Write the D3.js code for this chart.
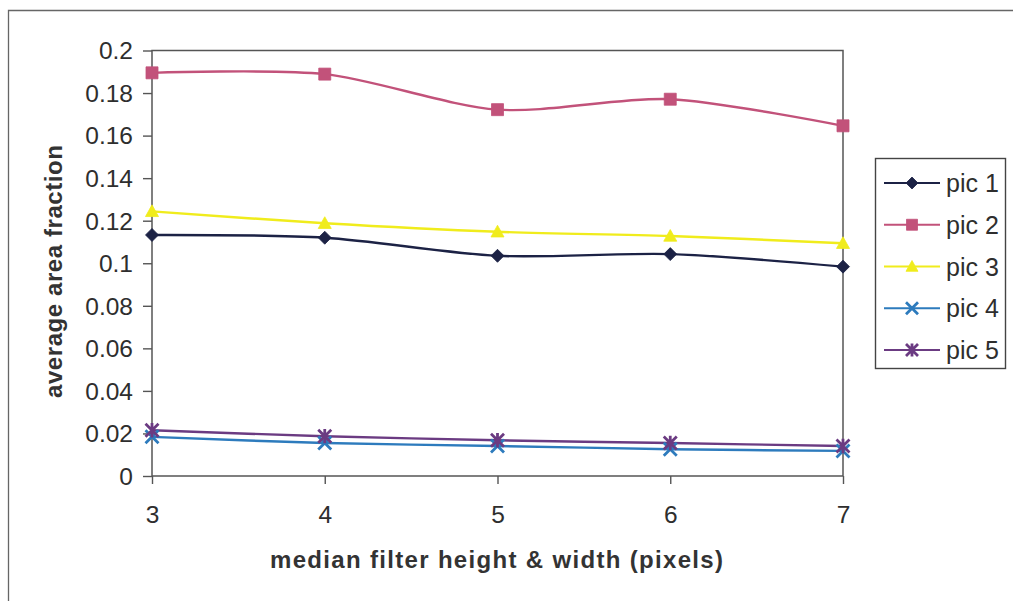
<!DOCTYPE html>
<html>
<head>
<meta charset="utf-8">
<script src="https://cdn.jsdelivr.net/npm/d3@7"></script>
<style>
  html, body { margin: 0; padding: 0; background: #fff; }
  svg { display: block; font-family: "Liberation Sans", Arial, sans-serif; }
</style>
</head>
<body>
<svg id="chart" width="1013" height="601"></svg>
<script>
// Filter sizes (x values)
const filterSizes = [3, 4, 5, 6, 7];
const seriesNames = ["pic 1", "pic 2", "pic 3", "pic 4", "pic 5"];
// Average area fraction per picture
const pic1 = [0.1133, 0.1120, 0.1035, 0.1043, 0.0984];
const pic2 = [0.1895, 0.1889, 0.1722, 0.1771, 0.1646];
const pic3 = [0.1244, 0.1188, 0.1148, 0.1128, 0.1094];
const pic4 = [0.0184, 0.0155, 0.0141, 0.0126, 0.0118];
const pic5 = [0.0215, 0.0187, 0.0168, 0.0155, 0.0141];
const yTicks = [0, 0.02, 0.04, 0.06, 0.08, 0.1, 0.12, 0.14, 0.16, 0.18, 0.2];
const yTickLabels = ["0", "0.02", "0.04", "0.06", "0.08", "0.1", "0.12", "0.14", "0.16", "0.18", "0.2"];

const seriesValues = [pic1, pic2, pic3, pic4, pic5];
const colors = ["#1c2245", "#c2527a", "#f0ec1c", "#2d7bbd", "#6b3b82"];
const markerKinds = ["diamond", "square", "triangle", "cross", "star"];

const svg = d3.select("#chart");
const plot = { left: 152, right: 843, top: 50.5, bottom: 476 };

const x = d3.scaleLinear().domain([3, 7]).range([plot.left, plot.right]);
const y = d3.scaleLinear().domain([0, 0.2]).range([plot.bottom, plot.top]);

// outer chart frame (left and top edges visible)
svg.append("path")
  .attr("d", "M8.5,601 L8.5,10.5 L1013,10.5")
  .attr("fill", "none").attr("stroke", "#666").attr("stroke-width", 1.3);

// plot area frame
svg.append("rect")
  .attr("x", plot.left).attr("y", plot.top)
  .attr("width", plot.right - plot.left).attr("height", plot.bottom - plot.top)
  .attr("fill", "none").attr("stroke", "#555").attr("stroke-width", 1.5);

// y axis
const yAxis = svg.append("g")
  .attr("transform", `translate(${plot.left},0)`)
  .call(d3.axisLeft(y).tickValues(yTicks)
    .tickFormat((d, i) => yTickLabels[i]).tickSize(9).tickPadding(10));
yAxis.select(".domain").remove();
yAxis.selectAll(".tick line").attr("stroke", "#555").attr("stroke-width", 1.4);
yAxis.selectAll(".tick text")
  .attr("fill", "#2e2e2e").attr("font-size", 24.5).attr("dy", "0.34em")
  .attr("font-family", "Liberation Sans, Arial, sans-serif");

// x axis
const xAxis = svg.append("g")
  .attr("transform", `translate(0,${plot.bottom})`)
  .call(d3.axisBottom(x).tickValues(filterSizes).tickFormat(d3.format("d"))
    .tickSize(8).tickPadding(22));
xAxis.select(".domain").remove();
xAxis.selectAll(".tick line").attr("stroke", "#555").attr("stroke-width", 1.4);
xAxis.selectAll(".tick text")
  .attr("fill", "#2e2e2e").attr("font-size", 24.5).attr("dy", "0.71em")
  .attr("font-family", "Liberation Sans, Arial, sans-serif");

// axis titles
svg.append("text")
  .attr("x", 496.5).attr("y", 568)
  .attr("text-anchor", "middle")
  .attr("font-size", 24).attr("font-weight", "bold").attr("fill", "#333")
  .attr("textLength", 453).attr("lengthAdjust", "spacing")
  .text("median filter height & width (pixels)");

svg.append("text")
  .attr("transform", "translate(62,271.5) rotate(-90)")
  .attr("text-anchor", "middle")
  .attr("font-size", 24).attr("font-weight", "bold").attr("fill", "#333")
  .attr("textLength", 253).attr("lengthAdjust", "spacing")
  .text("average area fraction");

// marker shapes
function markerPath(kind, s) {
  const h = s / 2;
  switch (kind) {
    case "diamond": return `M0,${-h}L${h},0L0,${h}L${-h},0Z`;
    case "square": return `M${-h},${-h}H${h}V${h}H${-h}Z`;
    case "triangle": return `M0,${-h}L${h},${h * 0.8}H${-h}Z`;
    case "cross": return `M${-h},${-h}L${h},${h}M${h},${-h}L${-h},${h}`;
    case "star": return `M${-h},${-h}L${h},${h}M${h},${-h}L${-h},${h}M0,${-h * 1.1}V${h * 1.1}`;
  }
}
function drawMarker(g, kind, color, s) {
  const p = g.append("path").attr("d", markerPath(kind, s));
  if (kind === "cross" || kind === "star") {
    p.attr("fill", "none").attr("stroke", color).attr("stroke-width", 2.8);
  } else {
    p.attr("fill", color).attr("stroke", color).attr("stroke-width", 0.8);
  }
}
const markerSizes = { diamond: 13, square: 12, triangle: 13, cross: 13, star: 13 };

// smoothed series lines
const line = d3.line()
  .x((d, i) => x(filterSizes[i]))
  .y(d => y(d))
  .curve(d3.curveCardinal.tension(0.15));

seriesValues.forEach((vals, si) => {
  svg.append("path")
    .datum(vals)
    .attr("d", line)
    .attr("fill", "none")
    .attr("stroke", colors[si])
    .attr("stroke-width", 2.4);
});
seriesValues.forEach((vals, si) => {
  vals.forEach((v, i) => {
    const g = svg.append("g").attr("transform", `translate(${x(filterSizes[i])},${y(v)})`);
    drawMarker(g, markerKinds[si], colors[si], markerSizes[markerKinds[si]]);
  });
});

// legend
const legend = svg.append("g");
legend.append("rect")
  .attr("x", 875.5).attr("y", 158.5).attr("width", 130).attr("height", 210)
  .attr("fill", "#fff").attr("stroke", "#444").attr("stroke-width", 1.4);
const legendY = d3.scalePoint().domain(seriesNames).range([183, 350]);
seriesNames.forEach((name, si) => {
  const ly = legendY(name);
  legend.append("line")
    .attr("x1", 884).attr("x2", 940).attr("y1", ly).attr("y2", ly)
    .attr("stroke", colors[si]).attr("stroke-width", 2.2);
  const g = legend.append("g").attr("transform", `translate(912,${ly})`);
  drawMarker(g, markerKinds[si], colors[si], markerSizes[markerKinds[si]] - 1);
  legend.append("text")
    .attr("x", 946).attr("y", ly).attr("dy", "0.36em")
    .attr("font-size", 25).attr("fill", "#2e2e2e")
    .text(name);
});
</script>
</body>
</html>
